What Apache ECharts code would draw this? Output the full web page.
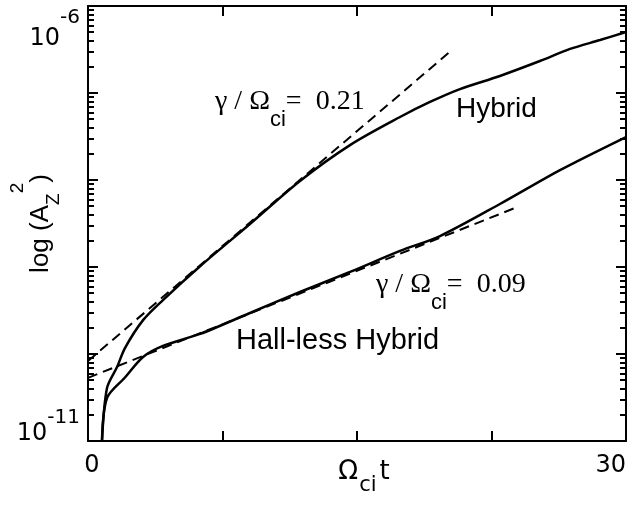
<!DOCTYPE html>
<html><head><meta charset="utf-8">
<script src="https://cdn.jsdelivr.net/npm/echarts@6/dist/echarts.min.js"></script>
<style>html,body{margin:0;padding:0;background:#fff}#c{width:628px;height:506px}</style>
</head><body><div id="c"></div>
<script>
// ---- data ----
const hybridT = [0.78, 1.06, 1.62, 2.06, 3.07, 4.18, 6.25, 9.03, 11.82, 14.61, 17.40, 19.07, 20.74, 22.97, 25.20, 26.88, 28.55, 30];
const hybridV = [1.0e-11, 4.07e-11, 7.08e-11, 1.17e-10, 2.45e-10, 4.17e-10, 1.02e-9, 3.12e-9, 9.75e-9, 2.52e-8, 5.30e-8, 7.89e-8, 1.11e-7, 1.57e-7, 2.33e-7, 3.21e-7, 4.06e-7, 5.02e-7];
const halllessT = [0.78, 1.06, 2.06, 3.07, 4.18, 6.25, 9.03, 11.82, 14.61, 17.40, 19.63, 22.97, 26.32, 30];
const halllessV = [1.0e-11, 3.12e-11, 5.37e-11, 9.25e-11, 1.24e-10, 1.70e-10, 2.96e-10, 5.16e-10, 8.77e-10, 1.53e-9, 2.27e-9, 5.30e-9, 1.30e-8, 3.12e-8];
const fit021T = [0, 20.2];
const fit021V = [8.32e-11, 3.0e-7];
const fit009T = [0, 23.8];
const fit009V = [5.32e-11, 4.76e-9];
const xLabelValues = [0, 30];
const xLabelTexts = ['0', '30'];
const yLabelValues = [1e-11, 1e-6];
const yLabelExps = ['-11', '-6'];
const yMinorTicks = [
  2e-11, 3e-11, 4e-11, 5e-11, 6e-11, 7e-11, 8e-11, 9e-11,
  2e-10, 3e-10, 4e-10, 5e-10, 6e-10, 7e-10, 8e-10, 9e-10,
  2e-9, 3e-9, 4e-9, 5e-9, 6e-9, 7e-9, 8e-9, 9e-9,
  2e-8, 3e-8, 4e-8, 5e-8, 6e-8, 7e-8, 8e-8, 9e-8,
  2e-7, 3e-7, 4e-7, 5e-7, 6e-7, 7e-7, 8e-7, 9e-7
];
const yMajorTicks = [1e-11, 1e-10, 1e-9, 1e-8, 1e-7, 1e-6];

const zip = (a, b) => a.map((v, i) => [v, b[i]]);
const SANS = 'Liberation Sans, Arial, sans-serif';
const DSANS = 'DejaVu Sans, sans-serif';
const SERIF = 'Liberation Serif, Times New Roman, serif';

const axisLine = { show: true, lineStyle: { color: '#000', width: 2 } };
function yAx(pos, ticks, len, showLine, extra) {
  return Object.assign({
    type: 'log', logBase: 10, min: 1e-11, max: 1e-6, position: pos,
    axisLine: showLine ? axisLine : { show: false },
    axisTick: { show: true, inside: true, length: len, customValues: ticks, lineStyle: { color: '#000', width: 2 } },
    axisLabel: { show: false },
    splitLine: { show: false }, minorTick: { show: false }
  }, extra || {});
}

const chart = echarts.init(document.getElementById('c'), null, { renderer: 'canvas' });
chart.setOption({
  animation: false,
  backgroundColor: '#fff',
  grid: { left: 88, right: 2, top: 6, bottom: 65, containLabel: false, outerBoundsMode: 'none' },
  xAxis: [
    {
      type: 'value', min: 0, max: 30, interval: 7.5, position: 'bottom',
      axisLine: axisLine,
      axisTick: { inside: true, length: 10, lineStyle: { color: '#000', width: 2 } },
      splitLine: { show: false },
      axisLabel: {
        customValues: xLabelValues, margin: 13, color: '#000', fontFamily: DSANS, fontSize: 24,
        alignMaxLabel: 'right',
        formatter: v => { const i = xLabelValues.indexOf(v); if (i < 0) return ''; return i === 0 ? '{z|' + xLabelTexts[i] + '}' : xLabelTexts[i]; },
        rich: { z: { fontFamily: DSANS, fontSize: 24, color: '#000', padding: [0, 0, 0, 8] } }
      },
      name: '{O|Ω}{s|ci}{t|t}', nameLocation: 'middle', nameGap: 18, nameMoveOverlap: false,
      nameTextStyle: {
        padding: [0, 0, 0, 14], verticalAlign: 'top',
        rich: {
          O: { fontFamily: DSANS, fontSize: 26, lineHeight: 26, color: '#000', verticalAlign: 'top' },
          s: { fontFamily: DSANS, fontSize: 21, lineHeight: 21, color: '#000', verticalAlign: 'top', padding: [16, 0, 0, 1] },
          t: { fontFamily: DSANS, fontSize: 26, lineHeight: 26, color: '#000', verticalAlign: 'top', padding: [0, 0, 0, 3] }
        }
      }
    },
    {
      type: 'value', min: 0, max: 30, interval: 7.5, position: 'top',
      axisLine: axisLine,
      axisTick: { inside: true, length: 10, lineStyle: { color: '#000', width: 2 } },
      splitLine: { show: false }, axisLabel: { show: false }
    }
  ],
  yAxis: [
    yAx('left', yMajorTicks, 10, true, {
      axisLabel: {
        show: true, customValues: yLabelValues, margin: 8, color: '#000',
        formatter: v => {
          const e = Math.round(Math.log10(v));
          if (e === -6) return '{a1|10}{b1|' + yLabelExps[1] + '}';
          if (e === -11) return '{p| }{a2|10}{b2|' + yLabelExps[0] + '}';
          return '';
        },
        rich: {
          a1: { fontFamily: DSANS, fontSize: 24, lineHeight: 24, color: '#000', verticalAlign: 'top', padding: [33, 0, 0, 0] },
          b1: { fontFamily: DSANS, fontSize: 20, lineHeight: 20, color: '#000', verticalAlign: 'top', padding: [14, 0, 0, 0] },
          p: { fontSize: 1, lineHeight: 67, verticalAlign: 'top' },
          a2: { fontFamily: DSANS, fontSize: 24, lineHeight: 24, color: '#000', verticalAlign: 'top', padding: [14, 0, 0, 0] },
          b2: { fontFamily: DSANS, fontSize: 20, lineHeight: 20, color: '#000', verticalAlign: 'top', padding: [0, 0, 0, 0] }
        }
      },
      name: '{n|log (A}{sub|Z}{sup|2}{n|)}', nameLocation: 'middle', nameGap: 54, nameMoveOverlap: false,
      nameTextStyle: {
        rich: {
          n: { fontFamily: SANS, fontSize: 26, lineHeight: 26, color: '#000', verticalAlign: 'top', padding: [20, 0, 0, 0] },
          sub: { fontFamily: SANS, fontSize: 19, lineHeight: 19, color: '#000', verticalAlign: 'top', padding: [36, 0, 0, 0] },
          sup: { fontFamily: SANS, fontSize: 19, lineHeight: 19, color: '#000', verticalAlign: 'top', padding: [0, 0, 0, 0] }
        }
      }
    }),
    yAx('left', yMinorTicks, 6, false),
    yAx('right', yMajorTicks, 10, true),
    yAx('right', yMinorTicks, 6, false)
  ],
  series: [
    { name: 'Hybrid', type: 'line', data: zip(hybridT, hybridV), showSymbol: false, symbol: 'none', smooth: 0.3, clip: true,
      lineStyle: { color: '#000', width: 2.5 } },
    { name: 'Hall-less Hybrid', type: 'line', data: zip(halllessT, halllessV), showSymbol: false, symbol: 'none', smooth: 0.3, clip: true,
      lineStyle: { color: '#000', width: 2.5 } },
    { name: 'fit 0.21', type: 'line', data: zip(fit021T, fit021V), showSymbol: false, symbol: 'none', clip: true,
      lineStyle: { color: '#000', width: 2, type: [10, 6] } },
    { name: 'fit 0.09', type: 'line', data: zip(fit009T, fit009V), showSymbol: false, symbol: 'none', clip: true,
      lineStyle: { color: '#000', width: 2, type: [10, 6] } }
  ],
  graphic: [
    { type: 'text', x: 215, y: 88, silent: true, style: {
        text: '{g|γ / Ω}{s|ci}{g|=  0.21}', align: 'left', verticalAlign: 'top',
        rich: {
          g: { fontFamily: SERIF, fontSize: 28, lineHeight: 28, fill: '#000', verticalAlign: 'top' },
          s: { fontFamily: SANS, fontSize: 22, lineHeight: 22, fill: '#000', verticalAlign: 'top', padding: [21, 0, 0, 0] }
        } } },
    { type: 'text', x: 376, y: 271, silent: true, style: {
        text: '{g|γ / Ω}{s|ci}{g|=  0.09}', align: 'left', verticalAlign: 'top',
        rich: {
          g: { fontFamily: SERIF, fontSize: 28, lineHeight: 28, fill: '#000', verticalAlign: 'top' },
          s: { fontFamily: SANS, fontSize: 22, lineHeight: 22, fill: '#000', verticalAlign: 'top', padding: [21, 0, 0, 0] }
        } } },
    { type: 'text', x: 456, y: 95, silent: true, style: {
        text: 'Hybrid', fontFamily: SANS, fontSize: 28, fill: '#000', align: 'left', verticalAlign: 'top' } },
    { type: 'text', x: 236, y: 326, silent: true, style: {
        text: 'Hall-less Hybrid', fontFamily: SANS, fontSize: 29, fill: '#000', align: 'left', verticalAlign: 'top' } }
  ]
});
</script>
</body></html>
